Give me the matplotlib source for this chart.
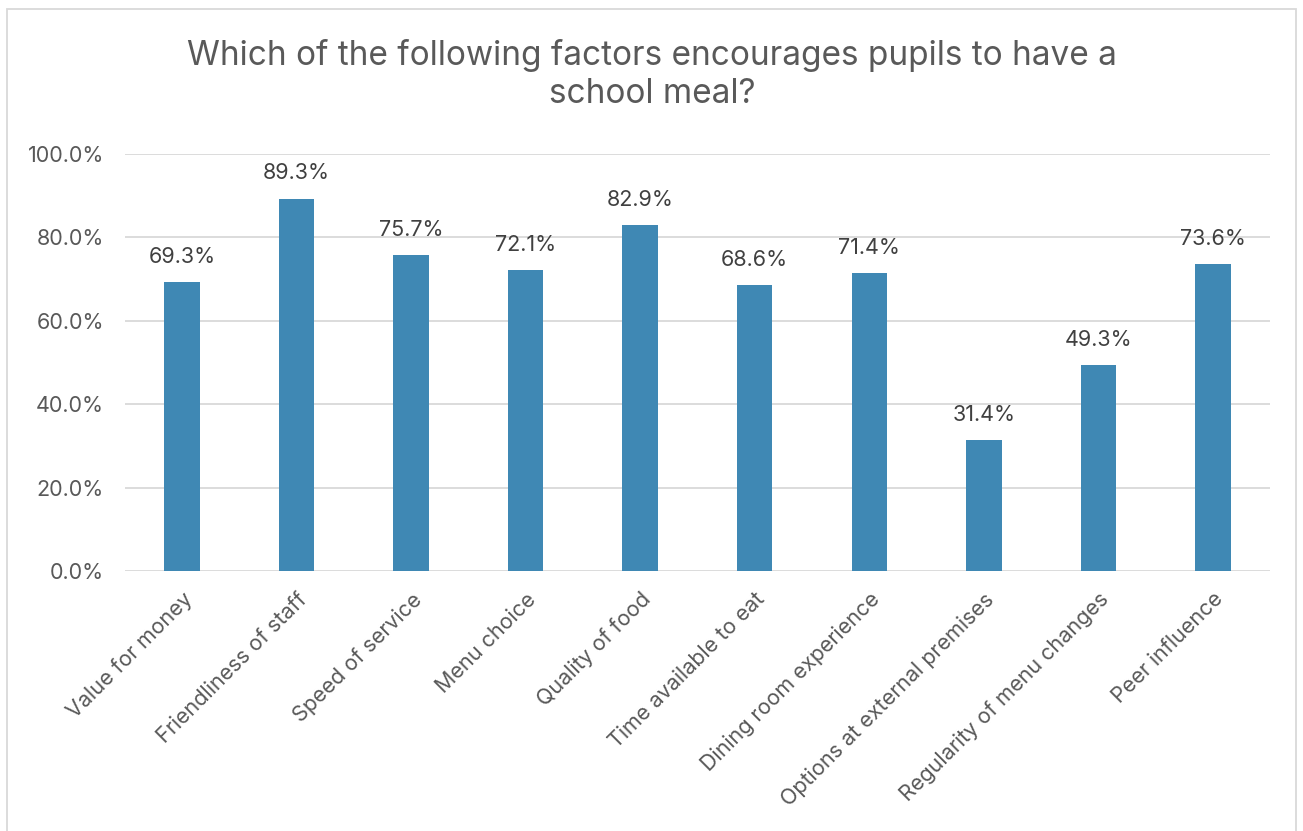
import matplotlib.pyplot as plt
from matplotlib.patches import Rectangle
from matplotlib.ticker import FuncFormatter

categories = [
    "Value for money", "Friendliness of staff", "Speed of service", "Menu choice",
    "Quality of food", "Time available to eat", "Dining room experience",
    "Options at external premises", "Regularity of menu changes", "Peer influence",
]
values = [69.3, 89.3, 75.7, 72.1, 82.9, 68.6, 71.4, 31.4, 49.3, 73.6]
yticks = [0, 20, 40, 60, 80, 100]
title = "Which of the following factors encourages pupils to have a\nschool meal?"

plt.rcParams['font.family'] = ['Inter', 'DejaVu Sans']
label_color = "#404040"
tick_color = "#595959"
bar_color = "#3F88B4"
grid_color = "#D9D9D9"

fig = plt.figure(figsize=(13.03, 8.31), dpi=100)
ax = fig.add_axes([0.0959, 0.3129, 0.8788, 0.5018])

x = range(len(categories))
bars = ax.bar(x, values, width=0.31, color=bar_color, zorder=3)

for xi, v in zip(x, values):
    ax.annotate(f"{v:.1f}%", (xi, v), xytext=(0, 11), textcoords="offset points",
                ha="center", va="bottom", fontsize=15.5, color=label_color)

ax.set_xlim(-0.5, len(categories) - 0.5)
ax.set_ylim(0, 100)
ax.set_yticks(yticks)
ax.yaxis.set_major_formatter(FuncFormatter(lambda v, p: f"{v:.1f}%"))
ax.grid(axis="y", color=grid_color, linewidth=1.3, zorder=0)
for s in ax.spines.values():
    s.set_visible(False)
ax.tick_params(axis="both", length=0, labelsize=15.5, labelcolor=tick_color)
ax.tick_params(axis="y", pad=15)
ax.set_xticks(list(x))
ax.set_xticklabels(categories, rotation=45, ha="right", rotation_mode="anchor")
ax.tick_params(axis="x", pad=13)

fig.text(0.5005, 0.91, title, ha="center", va="center", fontsize=24,
         color=tick_color, linespacing=1.25)

fig.patches.append(Rectangle((7 / 1303, -0.01), 1289 / 1303, 1 - 9 / 831 + 0.01,
                             transform=fig.transFigure, fill=False,
                             edgecolor=grid_color, linewidth=1.3))

fig.savefig("out.png", dpi=100, facecolor="white")
